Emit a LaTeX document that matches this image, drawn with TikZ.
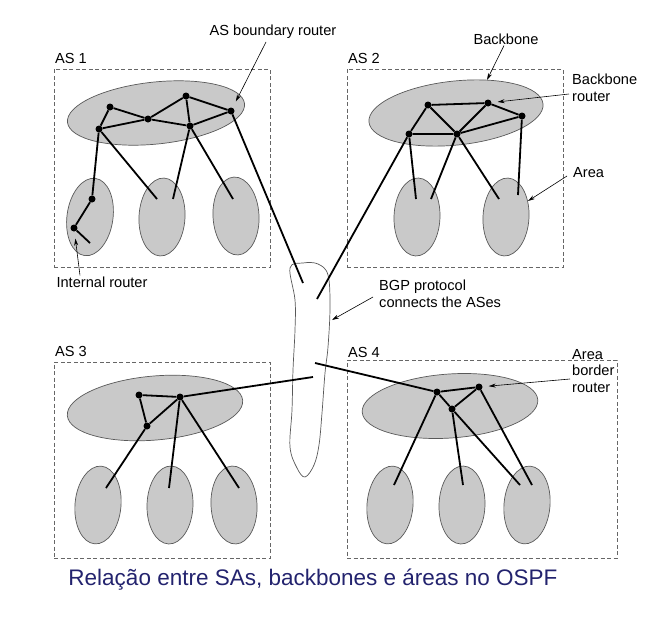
\documentclass[tikz,border=0pt]{standalone}
\usepackage{fontspec}
\setmainfont{Liberation Sans}
\usetikzlibrary{shapes.geometric,arrows.meta,calc}
\definecolor{blobfill}{gray}{0.79}
\definecolor{captionblue}{RGB}{35,35,110}
\begin{document}
\begin{tikzpicture}[x=1pt,y=-1pt,
  asbox/.style={draw=black!60, line width=0.8pt, dash pattern=on 4pt off 2.5pt, inner sep=0},
  bbone/.style={ellipse, draw=black!65, line width=0.7pt, fill=blobfill, inner sep=0},
  areablob/.style={ellipse, draw=black!65, line width=0.7pt, fill=blobfill, minimum width=46pt, minimum height=78pt, inner sep=0},
  router/.style={circle, fill=black, inner sep=0, minimum size=7pt},
  wire/.style={line width=1.8pt, black},
  lbl/.style={font=\fontsize{14.6}{16.5}\selectfont, inner sep=0, align=left},
  pointer/.style={line width=0.6pt, -{Stealth[length=7pt,width=4pt]}}]
\useasboundingbox (0,0) rectangle (667,621);

% AS boxes
\node[asbox, minimum width=216pt, minimum height=198pt] (as1) at (162,168) {};
\node[asbox, minimum width=216pt, minimum height=198pt] (as2) at (455,168) {};
\node[asbox, minimum width=216pt, minimum height=196pt] (as3) at (162,460) {};
\node[asbox, minimum width=270pt, minimum height=198pt] (as4) at (482,459) {};
\node[lbl, anchor=west] (as1l) at (55,58) {AS 1};
\node[lbl, anchor=west] (as2l) at (348,58) {AS 2};
\node[lbl, anchor=west] (as3l) at (55,351) {AS 3};
\node[lbl, anchor=west] (as4l) at (348,352) {AS 4};

% backbones
\node[bbone, minimum width=178pt, minimum height=62pt, rotate=6] (bb1) at (156,113) {};
\node[bbone, minimum width=175pt, minimum height=64pt, rotate=6] (bb2) at (456,113) {};
\node[bbone, minimum width=176pt, minimum height=64pt, rotate=5] (bb3) at (155,408) {};
\node[bbone, minimum width=176pt, minimum height=64pt, rotate=4] (bb4) at (450,406) {};

% areas
\node[areablob, rotate=-8] (ar11) at (90,217) {};
\node[areablob, rotate=-3] (ar12) at (162,217) {};
\node[areablob, rotate=3] (ar13) at (236,216) {};
\node[areablob, rotate=-2] (ar21) at (417,217) {};
\node[areablob, rotate=-3] (ar22) at (506,217) {};
\node[areablob, rotate=-5] (ar31) at (98,505) {};
\node[areablob, rotate=-2] (ar32) at (170,505) {};
\node[areablob, rotate=3] (ar33) at (234,505) {};
\node[areablob, rotate=-5] (ar41) at (390,505) {};
\node[areablob, rotate=-2] (ar42) at (462,505) {};
\node[areablob, rotate=-5] (ar43) at (527,505) {};

% BGP blob
\draw[draw=black!65, line width=0.7pt, fill=white] plot[smooth cycle, tension=0.6] coordinates {
 (290,268) (295,300) (295,330) (293,370) (292,410) (290,447) (297,468) (305,477)
 (314,465) (319,445) (322,413) (325,373) (328,347) (330,307) (328,275) (318,264) (303,263)};

% routers
\node[router] (a1) at (110,107) {};
\node[router] (a2) at (148,119) {};
\node[router] (a3) at (186,96) {};
\node[router] (a4) at (231,111) {};
\node[router] (a5) at (99,129) {};
\node[router] (a6) at (190,126) {};
\node[router] (ir1) at (92,199) {};
\node[router] (ir2) at (74,228) {};

\node[router] (b1) at (428,105) {};
\node[router] (b2) at (488,103) {};
\node[router] (b3) at (522,116) {};
\node[router] (b4) at (409,134) {};
\node[router] (b5) at (457,134) {};

\node[router] (c1) at (139,395) {};
\node[router] (c2) at (180,397) {};
\node[router] (c3) at (147,426) {};

\node[router] (d1) at (437,392) {};
\node[router] (d2) at (479,387) {};
\node[router] (d3) at (452,409) {};

% free ends
\coordinate (e11) at (90,243);
\coordinate (e12a) at (157,199);
\coordinate (e12b) at (173,199);
\coordinate (e13) at (233,199);
\coordinate (g1) at (303,283);
\coordinate (g2) at (317,299);
\coordinate (g3) at (313,377);
\coordinate (g4) at (315,363);
\coordinate (e21a) at (416,199);
\coordinate (e21b) at (431,199);
\coordinate (e22a) at (499,199);
\coordinate (e22b) at (518,195);
\coordinate (e31) at (106,488);
\coordinate (e32) at (169,488);
\coordinate (e33) at (239,488);
\coordinate (e41) at (394,485);
\coordinate (e42) at (463,485);
\coordinate (e43a) at (520,485);
\coordinate (e43b) at (532,485);

% links
\draw[wire] (a1) -- (a2) -- (a3) -- (a4);
\draw[wire] (a5) -- (a2) -- (a6) -- (a4);
\draw[wire] (a1) -- (a5);
\draw[wire] (a3) -- (a6);
\draw[wire] (a5) -- (ir1) -- (ir2) -- (e11);
\draw[wire] (a5) -- (e12a);
\draw[wire] (a6) -- (e12b);
\draw[wire] (a6) -- (e13);
\draw[wire] (a4) -- (g1);

\draw[wire] (b1) -- (b2) -- (b3);
\draw[wire] (b1) -- (b4) -- (b5) -- (b1);
\draw[wire] (b2) -- (b5) -- (b3);
\draw[wire] (b4) -- (g2);
\draw[wire] (b4) -- (e21a);
\draw[wire] (b5) -- (e21b);
\draw[wire] (b5) -- (e22a);
\draw[wire] (b3) -- (e22b);

\draw[wire] (c1) -- (c2) -- (c3) -- (c1);
\draw[wire] (c2) -- (g3);
\draw[wire] (c3) -- (e31);
\draw[wire] (c2) -- (e32);
\draw[wire] (c2) -- (e33);

\draw[wire] (d1) -- (d2) -- (d3) -- (d1);
\draw[wire] (d1) -- (g4);
\draw[wire] (d1) -- (e41);
\draw[wire] (d3) -- (e42);
\draw[wire] (d3) -- (e43a);
\draw[wire] (d2) -- (e43b);

% labels
\node[lbl] (labasb) at (273,32) {AS boundary router};
\coordinate (asbstart) at (266,42);
\draw[pointer, shorten >=7pt] (asbstart) -- (a4);
\node[lbl] (labint) at (102,282) {Internal router};
\draw[pointer, shorten >=7pt] ([xshift=-22pt,yshift=1pt]labint.north) -- (ir2);
\node[lbl] (labbb) at (506,39) {Backbone};
\coordinate (bbtip) at (487,80);
\draw[pointer] ([xshift=-2pt,yshift=-1pt]labbb.south) -- (bbtip);
\node[lbl, anchor=west] (labbr) at (572,88) {Backbone\\router};
\draw[pointer, shorten >=6pt] ([xshift=-3pt,yshift=-6pt]labbr.west) -- (b2);
\node[lbl, anchor=west] (labarea) at (573,173) {Area};
\coordinate (areatip) at (528,201);
\draw[pointer] ([xshift=-6pt,yshift=-3pt]labarea.west) -- (areatip);
\node[lbl, anchor=west] (labbgp) at (379,294) {BGP protocol\\connects the ASes};
\coordinate (bgptip) at (332,320);
\draw[pointer] ([xshift=-6pt,yshift=-3pt]labbgp.west) -- (bgptip);
\node[lbl, anchor=west] (lababr) at (572,371) {Area\\border\\router};
\draw[pointer, shorten >=6pt] ([xshift=-2pt,yshift=-8pt]lababr.west) -- (d2);

% caption
\node[font=\fontsize{22.5}{26}\selectfont, text=captionblue, inner sep=0] (cap) at (313,580) {Relação entre SAs, backbones e áreas no OSPF};
\end{tikzpicture}
\end{document}
